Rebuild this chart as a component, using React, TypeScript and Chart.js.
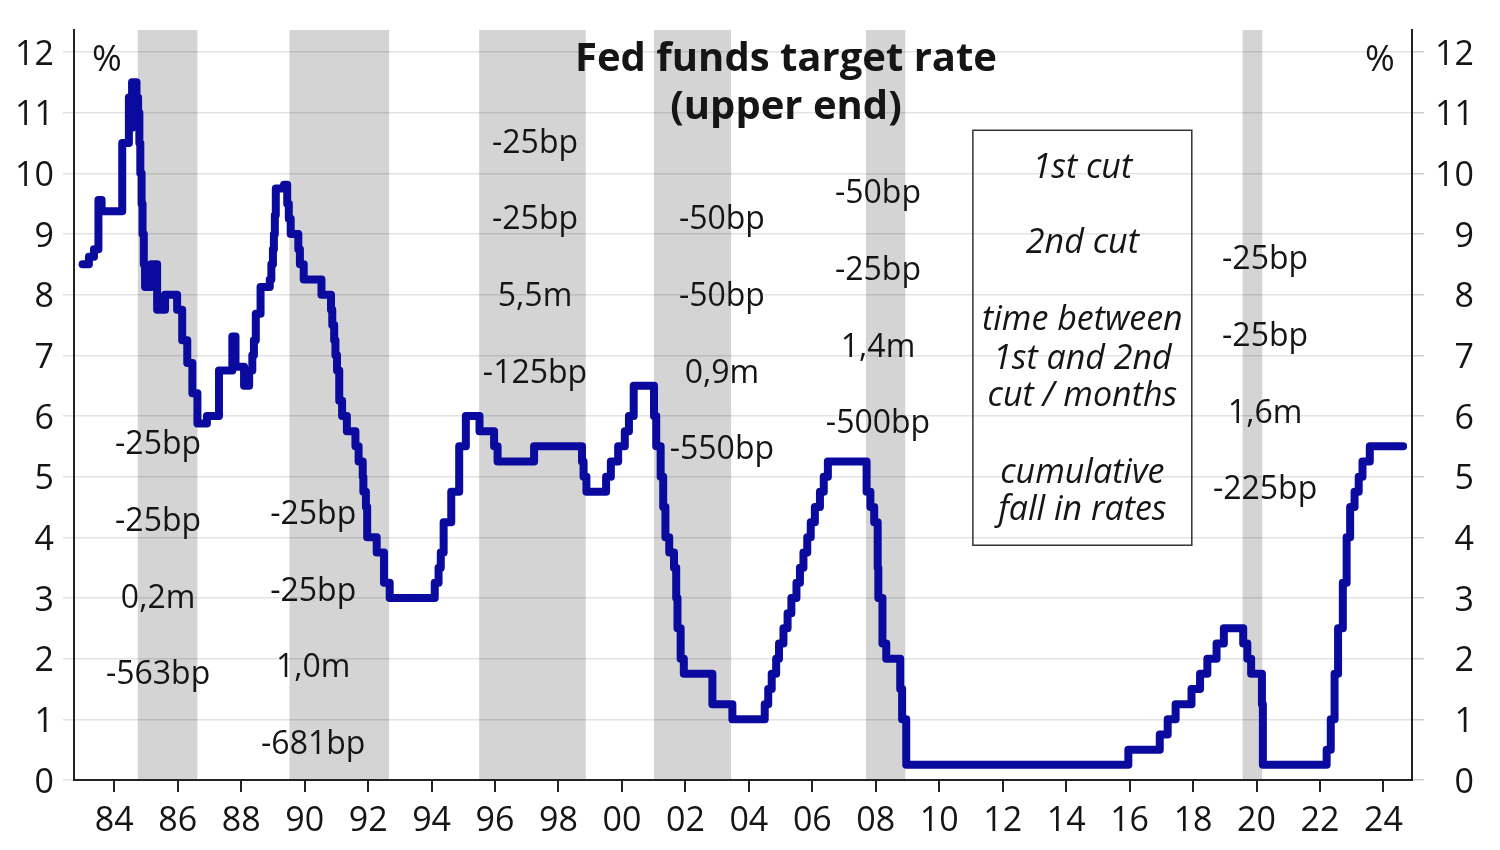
import React, { useEffect, useRef } from "react";
import { Chart, registerables } from "chart.js";

Chart.register(...registerables);

// Fed funds target rate (upper end): date of change (decimal year) and new level, %
const RATE_DATES = [
  1983.0, 1983.2, 1983.36, 1983.5, 1983.6, 1984.25, 1984.46, 1984.51, 1984.56, 1984.7,
  1984.75, 1984.79, 1984.82, 1984.86, 1984.89, 1984.93, 1984.97, 1985.16, 1985.35, 1985.6,
  1985.98, 1986.14, 1986.3, 1986.46, 1986.62, 1986.92, 1987.3, 1987.72, 1987.82, 1988.09,
  1988.25, 1988.35, 1988.4, 1988.46, 1988.61, 1988.9, 1988.95, 1989.0, 1989.03, 1989.06,
  1989.09, 1989.35, 1989.45, 1989.5, 1989.56, 1989.8, 1989.85, 1989.97, 1990.53, 1990.83,
  1990.87, 1990.93, 1990.97, 1991.02, 1991.09, 1991.18, 1991.33, 1991.6, 1991.7, 1991.83,
  1991.85, 1991.93, 1991.97, 1992.27, 1992.5, 1992.68, 1994.1, 1994.22, 1994.29, 1994.38,
  1994.62, 1994.87, 1995.08, 1995.51, 1995.97, 1996.08, 1997.23, 1998.74, 1998.79, 1998.88,
  1999.5, 1999.65, 1999.88, 2000.09, 2000.22, 2000.37, 2001.01, 2001.08, 2001.22, 2001.3,
  2001.37, 2001.49, 2001.64, 2001.71, 2001.75, 2001.85, 2001.95, 2002.85, 2003.48, 2004.5,
  2004.61, 2004.72, 2004.86, 2004.95, 2005.09, 2005.22, 2005.34, 2005.5, 2005.61, 2005.72,
  2005.84, 2005.95, 2006.08, 2006.24, 2006.36, 2006.49, 2007.71, 2007.83, 2007.95, 2008.06,
  2008.08, 2008.21, 2008.33, 2008.77, 2008.83, 2008.96, 2015.96, 2016.95, 2017.2, 2017.45,
  2017.95, 2018.22, 2018.45, 2018.74, 2018.97, 2019.58, 2019.71, 2019.83, 2020.17, 2020.2,
  2022.21, 2022.34, 2022.46, 2022.57, 2022.72, 2022.84, 2022.95, 2023.09, 2023.22, 2023.34,
  2023.57, 2024.62,
];
const RATE_VALUES = [
  8.5, 8.625, 8.75, 9.5625, 9.375, 10.5, 11.25, 10.75, 11.5, 11.25,
  11.0, 10.5, 10.0, 9.5, 9.0, 8.5, 8.125, 8.5, 7.75, 8.0,
  7.75, 7.25, 6.875, 6.375, 5.875, 6.0, 6.75, 7.3125, 6.8125, 6.5,
  6.75, 7.0, 7.25, 7.6875, 8.125, 8.25, 8.5, 8.75, 9.0, 9.3125,
  9.75, 9.8125, 9.5, 9.25, 9.0, 8.75, 8.5, 8.25, 8.0, 7.75,
  7.5, 7.25, 7.0, 6.75, 6.25, 6.0, 5.75, 5.5, 5.25, 5.0,
  4.75, 4.5, 4.0, 3.75, 3.25, 3.0, 3.25, 3.5, 3.75, 4.25,
  4.75, 5.5, 6.0, 5.75, 5.5, 5.25, 5.5, 5.25, 5.0, 4.75,
  5.0, 5.25, 5.5, 5.75, 6.0, 6.5, 6.0, 5.5, 5.0, 4.5,
  4.0, 3.75, 3.5, 3.0, 2.5, 2.0, 1.75, 1.25, 1.0, 1.25,
  1.5, 1.75, 2.0, 2.25, 2.5, 2.75, 3.0, 3.25, 3.5, 3.75,
  4.0, 4.25, 4.5, 4.75, 5.0, 5.25, 4.75, 4.5, 4.25, 3.5,
  3.0, 2.25, 2.0, 1.5, 1.0, 0.25, 0.5, 0.75, 1.0, 1.25,
  1.5, 1.75, 2.0, 2.25, 2.5, 2.25, 2.0, 1.75, 1.25, 0.25,
  0.5, 1.0, 1.75, 2.5, 3.25, 4.0, 4.5, 4.75, 5.0, 5.25,
  5.5, 5.5,
];

// Cutting-cycle shading (decimal years)
const BAND_STARTS = [1984.74, 1989.52, 1995.5, 2001.01, 2007.69, 2019.56];
const BAND_ENDS = [1986.62, 1992.66, 1998.86, 2003.44, 2008.93, 2020.18];

const X_TICKS = [1984, 1986, 1988, 1990, 1992, 1994, 1996, 1998, 2000, 2002, 2004, 2006, 2008, 2010, 2012, 2014, 2016, 2018, 2020, 2022, 2024];
const Y_TICKS = [0, 1, 2, 3, 4, 5, 6, 7, 8, 9, 10, 11, 12];

const TITLE_LINES = ["Fed funds target rate", "(upper end)"];
const UNIT_LABEL = "%";

// Per cutting cycle: 1st cut, 2nd cut, months between, cumulative fall
const CYCLE_NOTES = [
  ["-25bp", "-25bp", "0,2m", "-563bp"],
  ["-25bp", "-25bp", "1,0m", "-681bp"],
  ["-25bp", "-25bp", "5,5m", "-125bp"],
  ["-50bp", "-50bp", "0,9m", "-550bp"],
  ["-50bp", "-25bp", "1,4m", "-500bp"],
  ["-25bp", "-25bp", "1,6m", "-225bp"],
];
const KEY_LINES = ["1st cut", "2nd cut", "time between", "1st and 2nd", "cut / months", "cumulative", "fall in rates"];

const FONT = "'Open Sans', 'Noto Sans', sans-serif";
const TEXT_COLOR = "#151515";

const bandsPlugin = {
  id: "bands",
  beforeDraw(chart: any) {
    const { ctx, chartArea, scales } = chart;
    const x = scales.x;
    ctx.save();
    ctx.fillStyle = "#d4d4d4";
    BAND_STARTS.forEach((s, i) => {
      const x0 = x.getPixelForValue(s);
      const x1 = x.getPixelForValue(BAND_ENDS[i]);
      ctx.fillRect(x0, chartArea.top, x1 - x0, chartArea.bottom - chartArea.top);
    });
    ctx.restore();
  },
};

const notesPlugin = {
  id: "notes",
  afterDraw(chart: any) {
    const { ctx, chartArea, scales } = chart;
    const x = scales.x;
    const y = scales.y;
    const dy = 3;
    ctx.save();
    ctx.fillStyle = TEXT_COLOR;
    ctx.textAlign = "center";
    ctx.textBaseline = "middle";

    // title
    ctx.font = `bold 40px ${FONT}`;
    const titleX = x.getPixelForValue(2005.17);
    ctx.fillText(TITLE_LINES[0], titleX, y.getPixelForValue(11.93) + dy);
    ctx.fillText(TITLE_LINES[1], titleX, y.getPixelForValue(11.14) + dy);

    // unit labels
    ctx.font = `36px ${FONT}`;
    ctx.fillText(UNIT_LABEL, chartArea.left + 33, y.getPixelForValue(11.9) + dy);
    ctx.fillText(UNIT_LABEL, chartArea.right - 32, y.getPixelForValue(11.9) + dy);

    // cycle notes
    const colX = [1985.38, 1990.27, 1997.26, 2003.15, 2008.07, 2020.27];
    const colTop = [5.57, 4.42, 10.54, 9.28, 9.71, 8.62];
    ctx.font = `32px ${FONT}`;
    CYCLE_NOTES.forEach((lines, c) => {
      lines.forEach((t, r) => {
        ctx.fillText(t, x.getPixelForValue(colX[c]), y.getPixelForValue(colTop[c] - r * 1.265) + dy);
      });
    });

    // key box
    const bx0 = x.getPixelForValue(2011.06);
    const bx1 = x.getPixelForValue(2017.96);
    const by0 = y.getPixelForValue(10.71);
    const by1 = y.getPixelForValue(3.87);
    ctx.strokeStyle = "#333";
    ctx.lineWidth = 1.5;
    ctx.strokeRect(bx0, by0, bx1 - bx0, by1 - by0);
    const keyY = [10.14, 8.89, 7.63, 6.99, 6.37, 5.11, 4.49];
    ctx.font = `italic 34px ${FONT}`;
    KEY_LINES.forEach((t, i) => {
      ctx.fillText(t, (bx0 + bx1) / 2, y.getPixelForValue(keyY[i]) + dy);
    });
    ctx.restore();
  },
};

export default function App() {
  const ref = useRef<HTMLCanvasElement | null>(null);

  useEffect(() => {
    if (!ref.current) return;
    const tickFont = { family: FONT, size: 34 };
    const chart = new Chart(ref.current, {
      type: "line",
      data: {
        datasets: [
          {
            data: RATE_DATES.map((d, i) => ({ x: d, y: RATE_VALUES[i] })),
            stepped: true,
            borderColor: "#0a0a9e",
            borderWidth: 8,
            pointRadius: 0,
            fill: false,
            borderJoinStyle: "round",
            borderCapStyle: "round",
            yAxisID: "y",
          } as any,
        ],
      },
      options: {
        responsive: false,
        animation: false,
        layout: { padding: { left: 0, right: 26, top: 30, bottom: 0 } },
        plugins: {
          legend: { display: false },
          tooltip: { enabled: false },
          title: { display: false },
        },
        scales: {
          x: {
            type: "linear",
            min: 1982.73,
            max: 2024.9,
            afterBuildTicks: (s: any) => {
              s.ticks = X_TICKS.map((v) => ({ value: v }));
            },
            afterFit: (s: any) => {
              s.height = 70;
            },
            grid: { drawOnChartArea: false, color: "#222", lineWidth: 2, tickLength: 12 },
            border: { display: true, color: "#222", width: 2 },
            ticks: {
              callback: (v: any) => String(Number(v) % 100).padStart(2, "0"),
              font: tickFont,
              color: TEXT_COLOR,
              padding: 9,
              maxRotation: 0,
              autoSkip: false,
            },
          },
          y: {
            position: "left",
            min: 0,
            max: 12.363,
            afterBuildTicks: (s: any) => {
              s.ticks = Y_TICKS.map((v) => ({ value: v }));
            },
            afterFit: (s: any) => {
              s.width = 74;
            },
            grid: { color: "rgba(0,0,0,0.11)", lineWidth: 1.5, tickLength: 11 },
            border: { display: true, color: "#222", width: 2 },
            ticks: { font: tickFont, color: TEXT_COLOR, padding: 9, labelOffset: 3 },
          },
          y2: {
            position: "right",
            min: 0,
            max: 12.363,
            afterBuildTicks: (s: any) => {
              s.ticks = Y_TICKS.map((v) => ({ value: v }));
            },
            afterFit: (s: any) => {
              s.width = 62;
            },
            grid: { drawOnChartArea: false, color: "rgba(0,0,0,0.2)", lineWidth: 1.5, tickLength: 12 },
            border: { display: true, color: "#222", width: 2 },
            ticks: { font: tickFont, color: TEXT_COLOR, padding: 8, crossAlign: "far", labelOffset: 3 },
          },
        },
      } as any,
      plugins: [bandsPlugin, notesPlugin],
    });
    return () => chart.destroy();
  }, []);

  return (
    <div style={{ position: "fixed", left: 0, top: 0, width: 1500, height: 850, background: "#fff" }}>
      <canvas ref={ref} width={1500} height={850} style={{ display: "block", width: 1500, height: 850 }} />
    </div>
  );
}
